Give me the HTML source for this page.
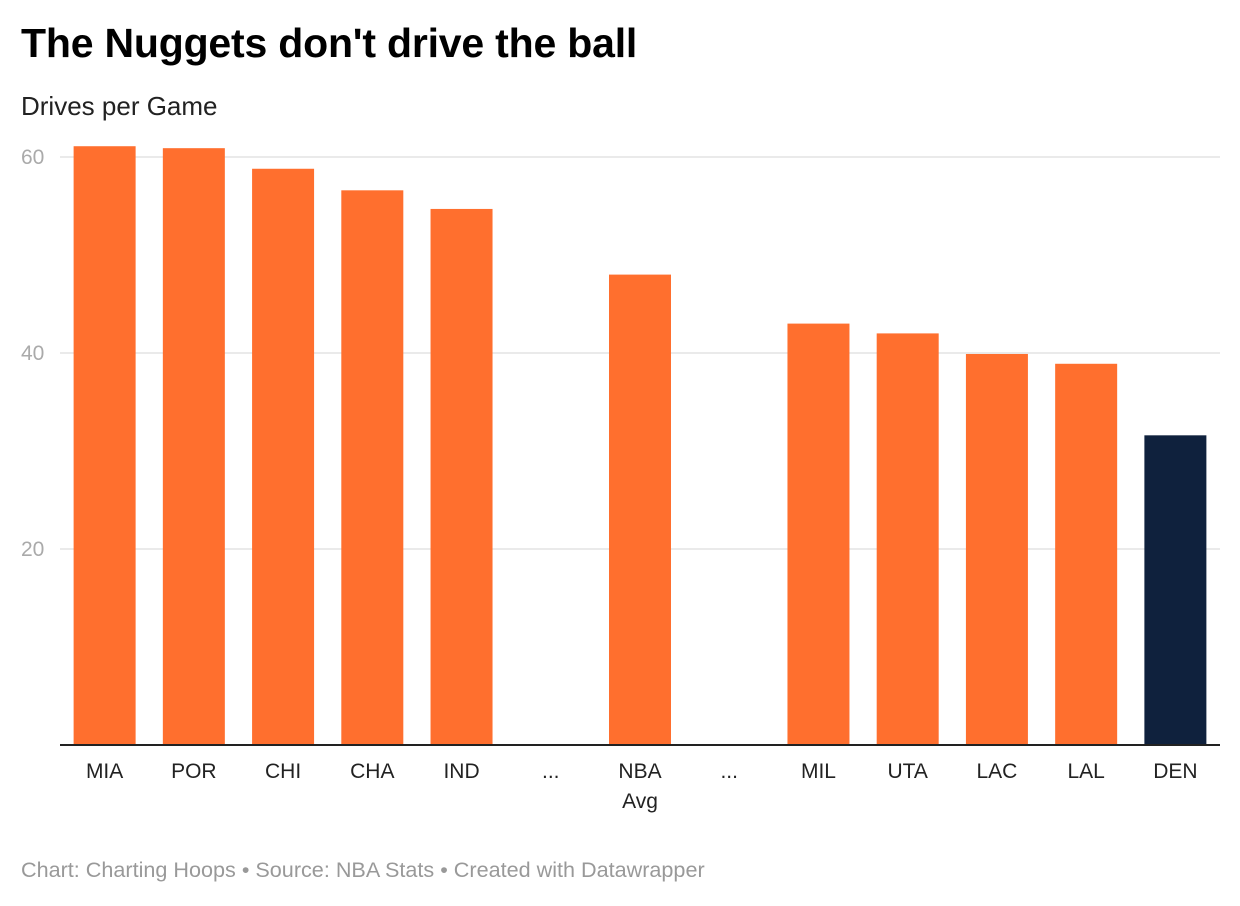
<!DOCTYPE html>
<html><head><meta charset="utf-8"><style>
body{margin:0;background:#fff;font-family:"Liberation Sans",sans-serif;}
#wrap{position:relative;width:1240px;height:906px;overflow:hidden;}
h1{position:absolute;left:21px;top:20px;margin:0;font-size:41px;font-weight:bold;color:#000;letter-spacing:-0.2px;}
.sub{position:absolute;left:21px;top:91px;font-size:26px;color:#222;}
.foot{position:absolute;left:21px;top:857px;font-size:21.6px;color:#999;}
</style></head><body>
<div id="wrap">
<h1>The Nuggets don't drive the ball</h1>
<div class="sub">Drives per Game</div>
<svg id="svg" width="1240" height="906" style="position:absolute;left:0;top:0"></svg>
<div class="foot">Chart: Charting Hoops • Source: NBA Stats • Created with Datawrapper</div>
</div>
<script>
const categories=["MIA","POR","CHI","CHA","IND","...","NBA|Avg","...","MIL","UTA","LAC","LAL","DEN"];
const values=[61.1,60.9,58.8,56.6,54.7,null,48.0,null,43.0,42.0,39.9,38.9,31.6];
const highlight=["DEN"];
const ticks=[20,40,60];
const NS="http://www.w3.org/2000/svg";
const svg=document.getElementById('svg');
const x0=60,x1=1220,y0=745,pxPer=9.8;
const slot=(x1-x0)/categories.length;
const y=v=>y0-v*pxPer;
const xc=i=>x0+slot*(i+0.5);
function mk(t,a){const e=document.createElementNS(NS,t);for(const k in a)e.setAttribute(k,a[k]);svg.appendChild(e);return e;}
ticks.forEach(t=>{
 const l=mk('line',{x1:x0,x2:x1,y1:y(t),y2:y(t),stroke:'#e3e3e3','stroke-width':1.5});
 
 
 const tx=mk('text',{x:21,y:y(t)+7,'font-size':21,fill:'#aaa','font-family':'Liberation Sans, sans-serif'});
 tx.textContent=t;
 
 
});
categories.forEach((c,i)=>{
 const v=values[i];
 if(v!=null){
  const r=mk('rect',{x:xc(i)-31,y:y(v),width:62,height:v*pxPer,fill:highlight.includes(c)?'#0f213d':'#ff6f2e'});
  
  
 }
 c.split('|').forEach((p,j)=>{
  const t=mk('text',{x:xc(i),y:778+j*30,'text-anchor':'middle','font-size':21,fill:'#222','font-family':'Liberation Sans, sans-serif'});
  t.textContent=p;
  
  
 });
});
const b=mk('line',{x1:x0,x2:x1,y1:y0,y2:y0,stroke:'#222','stroke-width':2});


</script>
</body></html>
